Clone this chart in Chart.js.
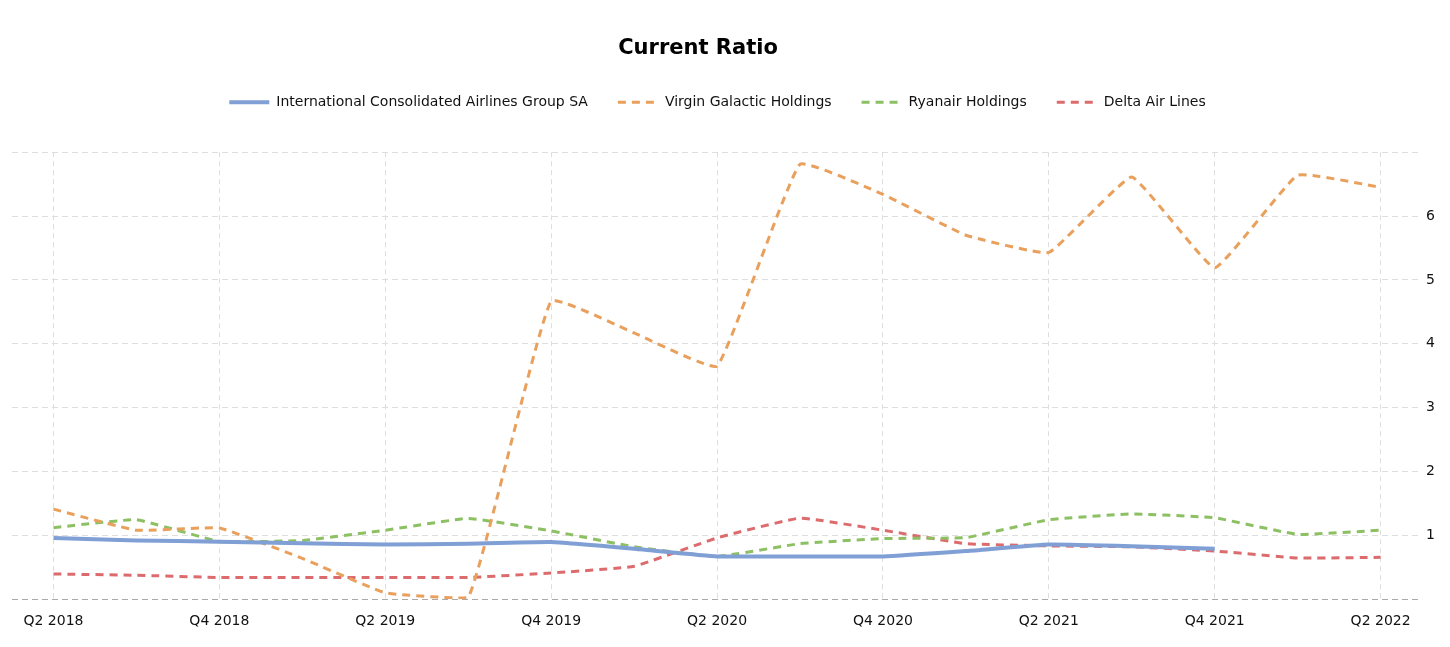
<!DOCTYPE html>
<html>
<head>
<meta charset="utf-8">
<script src="https://cdn.jsdelivr.net/npm/chart.js@4"></script>
<style>
    html, body { margin: 0; padding: 0; background: #fff; }
    #wrap { width: 1450px; height: 647px; }
</style>
</head>
<body>
<div id="wrap"><canvas id="ratioChart"></canvas></div>
<script>
const quarters = [
    'Q2 2018', 'Q3 2018', 'Q4 2018', 'Q1 2019', 'Q2 2019', 'Q3 2019', 'Q4 2019', 'Q1 2020',
    'Q2 2020', 'Q3 2020', 'Q4 2020', 'Q1 2021', 'Q2 2021', 'Q3 2021', 'Q4 2021', 'Q1 2022', 'Q2 2022'
];

const iagRatio = [0.96, 0.92, 0.9, 0.875, 0.855, 0.87, 0.895, 0.79, 0.67, 0.67, 0.67, 0.755, 0.855, 0.83, 0.79, null, null];
const virginRatio = [1.41, 1.08, 1.115, 0.64, 0.1, 0.025, 4.67, 4.17, 3.65, 6.81, 6.34, 5.7, 5.43, 6.61, 5.19, 6.64, 6.45];
const ryanairRatio = [1.12, 1.245, 0.905, 0.92, 1.08, 1.265, 1.07, 0.82, 0.67, 0.87, 0.95, 0.965, 1.245, 1.335, 1.275, 1.015, 1.08];
const deltaRatio = [0.395, 0.375, 0.34, 0.34, 0.34, 0.34, 0.41, 0.515, 0.96, 1.27, 1.08, 0.87, 0.835, 0.82, 0.755, 0.645, 0.655];

const fontFamily = '"DejaVu Sans", Verdana, sans-serif';
const gridColor = '#dedede';

// common settings for the four lines
const lineSet = (label, data, color, width, dash) => ({
    label: label,
    data: data,
    borderColor: color,
    backgroundColor: color,
    borderWidth: width,
    borderDash: dash,
    pointRadius: 0,
    pointHoverRadius: 0,
    pointStyle: 'line',
    tension: 0.1,
    fill: false
});

// push the plot down below the legend, and place title / legend where the original has them
const placementPlugin = {
    id: 'placement',
    beforeInit(chart) {
        const fit = chart.legend.fit;
        chart.legend.fit = function () {
            fit.bind(chart.legend)();
            this.height += 33;
        };
    },
    afterUpdate(chart) {
        const title = chart.titleBlock;
        if (title) {
            const dx = 698 - (title.left + title.right) / 2;
            title.left += dx;
            title.right += dx;
        }
        const legend = chart.legend;
        if (legend && legend.legendHitBoxes.length) {
            const boxes = legend.legendHitBoxes;
            const minLeft = Math.min(...boxes.map(b => b.left));
            const maxRight = Math.max(...boxes.map(b => b.left + b.width));
            const dx = 717.5 - (minLeft + maxRight) / 2;
            legend.left += dx;
            legend.right += dx;
        }
    }
};

const ctx = document.getElementById('ratioChart').getContext('2d');

new Chart(ctx, {
    type: 'line',
    data: {
        labels: quarters,
        datasets: [
            lineSet('International Consolidated Airlines Group SA', iagRatio, '#7f9fd5', 4, []),
            lineSet('Virgin Galactic Holdings', virginRatio, '#e8a05c', 3, [8, 6]),
            lineSet('Ryanair Holdings', ryanairRatio, '#8cc063', 3, [8, 6]),
            lineSet('Delta Air Lines', deltaRatio, '#dc6b6e', 3, [8, 6])
        ]
    },
    plugins: [placementPlugin],
    options: {
        responsive: true,
        maintainAspectRatio: false,
        animation: false,
        layout: {
            padding: { left: 12, right: 11, top: 36, bottom: 3 }
        },
        scales: {
            x: {
                offset: true,
                grid: {
                    offset: false,
                    color: gridColor,
                    drawTicks: false
                },
                border: {
                    display: false,
                    dash: [5, 4]
                },
                ticks: {
                    autoSkip: false,
                    maxRotation: 0,
                    padding: 14,
                    color: '#111',
                    font: { family: fontFamily, size: 14 },
                    callback: function (value, index) {
                        return index % 2 === 0 ? this.getLabelForValue(value) : null;
                    }
                }
            },
            y: {
                position: 'right',
                min: 0,
                max: 7,
                grid: {
                    color: (c) => c.tick && c.tick.value === 0 ? '#aaaaaa' : gridColor,
                    drawTicks: false
                },
                border: {
                    display: false,
                    dash: [6, 4]
                },
                ticks: {
                    stepSize: 1,
                    padding: 4,
                    color: '#111',
                    font: { family: fontFamily, size: 14 },
                    callback: (value) => (value === 0 || value === 7) ? '' : value
                }
            }
        },
        plugins: {
            title: {
                display: true,
                text: 'Current Ratio',
                color: '#000',
                font: { family: fontFamily, size: 21, weight: 'bold' },
                padding: { top: 0, bottom: 4 }
            },
            legend: {
                labels: {
                    usePointStyle: true,
                    pointStyleWidth: 40,
                    padding: 30,
                    color: '#111',
                    font: { family: fontFamily, size: 14 },
                    generateLabels: (chart) => {
                        const items = Chart.defaults.plugins.legend.labels.generateLabels(chart);
                        items.forEach(item => {
                            const ds = chart.data.datasets[item.datasetIndex];
                            item.lineDash = ds.borderDash;
                            item.lineWidth = ds.borderWidth;
                            item.strokeStyle = ds.borderColor;
                        });
                        return items;
                    }
                }
            },
            tooltip: { enabled: false }
        }
    }
});
</script>
</body>
</html>
